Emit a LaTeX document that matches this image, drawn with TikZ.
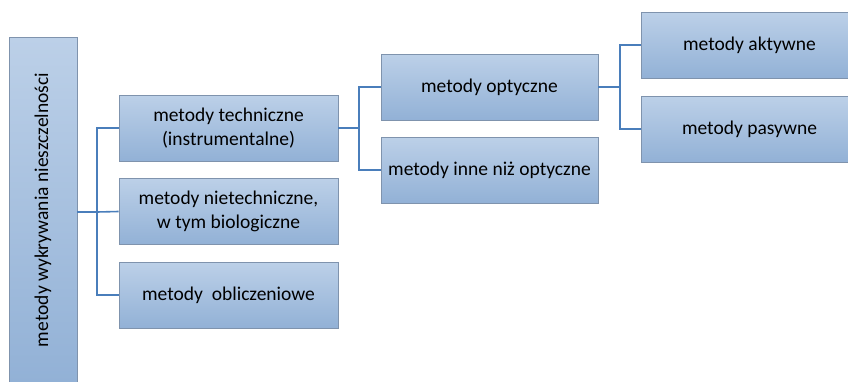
\documentclass[tikz,border=0pt]{standalone}
\usepackage{fontspec}
\setmainfont{Carlito}
\definecolor{boxtop}{HTML}{BCD0E8}
\definecolor{boxbot}{HTML}{92B1D6}
\definecolor{boxline}{HTML}{7F93AD}
\definecolor{conn}{HTML}{4A7EBB}
\begin{document}
\begin{tikzpicture}[x=1pt,y=-1pt,
  box/.style={draw=boxline, line width=0.9pt, top color=boxtop, bottom color=boxbot,
    inner sep=0pt, align=center, font=\fontsize{19.5}{23.5}\selectfont, text=black},
  lone/.style={box, minimum width=219pt, minimum height=66pt},
  ltwo/.style={box, minimum width=217pt, minimum height=66pt},
  link/.style={draw=conn, line width=1.6pt}]
\useasboundingbox (0,0) rectangle (848,381);
\clip (0,0) rectangle (848,381);
\node[box, minimum width=68pt, minimum height=346pt] (root) at (43,210)
  {\rotatebox{90}{metody wykrywania nieszczelności}};
\node[lone] (tech) at (228.5,128) {metody techniczne\\(instrumentalne)};
\node[lone] (nietech) at (228.5,211.5) {metody nietechniczne,\\w tym biologiczne};
\node[lone] (oblicz) at (228.5,295) {metody \ obliczeniowe};
\node[ltwo] (opt) at (489.5,87) {metody optyczne};
\node[ltwo] (inne) at (489.5,170) {metody inne niż optyczne};
\node[ltwo] (akt) at (749.5,45) {metody aktywne};
\node[ltwo] (pas) at (749.5,129) {metody pasywne};
\coordinate (b1) at (97,212);
\draw[link] (root.east |- b1) -- (b1);
\draw[link] (tech.west) -| (b1) |- (oblicz.west);
\draw[link] (b1) -- (nietech.west);
\coordinate (b2) at (359,128);
\draw[link] (tech.east) -- (b2);
\draw[link] (opt.west) -| (b2) |- (inne.west);
\coordinate (b3) at (620,87);
\draw[link] (opt.east) -- (b3);
\draw[link] (akt.west) -| (b3) |- (pas.west);
\end{tikzpicture}
\end{document}
